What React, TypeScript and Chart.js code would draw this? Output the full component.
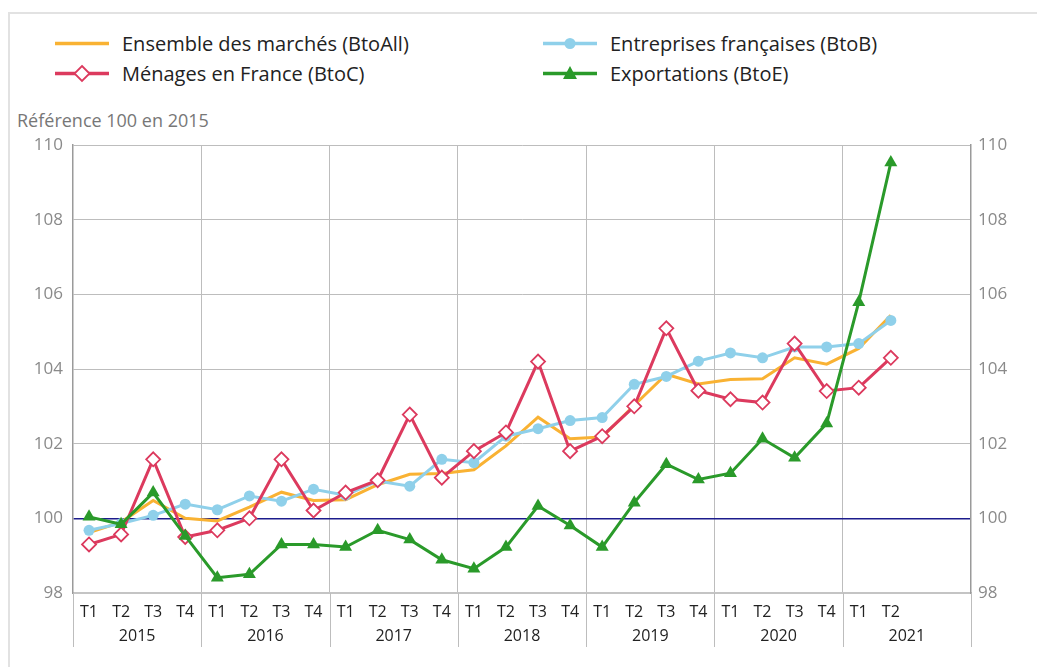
import React, { useEffect, useRef } from 'react';
import { Chart, registerables } from 'chart.js';

Chart.register(...registerables);

const quarters = [
  'T1', 'T2', 'T3', 'T4', 'T1', 'T2', 'T3', 'T4', 'T1', 'T2', 'T3', 'T4',
  'T1', 'T2', 'T3', 'T4', 'T1', 'T2', 'T3', 'T4', 'T1', 'T2', 'T3', 'T4',
  'T1', 'T2', '', '',
];
const years = ['2015', '2016', '2017', '2018', '2019', '2020', '2021'];

const btoAll = [
  99.62, 99.9, 100.48, 100.0, 99.93, 100.3, 100.7, 100.48,
  100.5, 100.9, 101.18, 101.2, 101.3, 101.94, 102.71, 102.13,
  102.18, 103.03, 103.86, 103.6, 103.72, 103.74, 104.3, 104.13,
  104.55, 105.44,
];
const btoB = [
  99.68, 99.86, 100.08, 100.38, 100.23, 100.6, 100.46, 100.78,
  100.62, 101.0, 100.86, 101.58, 101.49, 102.2, 102.4, 102.62,
  102.7, 103.59, 103.8, 104.21, 104.43, 104.3, 104.59, 104.59,
  104.68, 105.3,
];
const btoC = [
  99.3, 99.57, 101.58, 99.5, 99.68, 100.0, 101.58, 100.21,
  100.69, 101.02, 102.78, 101.09, 101.8, 102.3, 104.2, 101.8,
  102.2, 103.0, 105.09, 103.42, 103.19, 103.1, 104.68, 103.41,
  103.5, 104.3,
];
const btoE = [
  100.04, 99.84, 100.69, 99.53, 98.41, 98.5, 99.3, 99.3,
  99.23, 99.68, 99.43, 98.89, 98.65, 99.23, 100.33, 99.81,
  99.23, 100.42, 101.45, 101.04, 101.21, 102.13, 101.62, 102.54,
  105.79, 109.53,
];

const yMin = 98;
const yMax = 110;
const yStep = 2;
const refValue = 100;

const names = [
  'Ensemble des marchés (BtoAll)',
  'Entreprises françaises (BtoB)',
  'Ménages en France (BtoC)',
  'Exportations (BtoE)',
];
const axisTitle = 'Référence 100 en 2015';

const C_ORANGE = '#f9b233';
const C_BLUE = '#8fd0ea';
const C_RED = '#dc3a5e';
const C_GREEN = '#2a9a2a';
const C_NAVY = '#1c1c8c';
const GRID = '#bdbdbd';
const FONT = "'Open Sans', sans-serif";

const yearLines = {
  id: 'yearLines',
  afterDraw(chart: any) {
    const x = chart.scales.x;
    const ctx = chart.ctx;
    const half = (x.getPixelForValue(1) - x.getPixelForValue(0)) / 2;
    ctx.save();
    ctx.strokeStyle = GRID;
    ctx.lineWidth = 1;
    for (let k = 0; k <= years.length; k++) {
      const px = Math.round(x.getPixelForValue(k * 4) - half) + 0.5;
      ctx.beginPath();
      ctx.moveTo(px, chart.chartArea.bottom);
      ctx.lineTo(px, chart.chartArea.bottom + 54);
      ctx.stroke();
    }
    ctx.restore();
  },
};

function LegendIcon({ kind, color }: { kind: string; color: string }) {
  return (
    <svg width="56" height="20" style={{ position: 'absolute', left: 0, top: 0 }}>
      <line x1="1" y1="9.5" x2="55" y2="9.5" stroke={color} strokeWidth="3.5" />
      {kind === 'circle' && <circle cx="28" cy="9.5" r="5.5" fill={color} />}
      {kind === 'diamond' && (
        <polygon points="28,2 35.5,9.5 28,17 20.5,9.5" fill="#fff" stroke={color} strokeWidth="1.8" />
      )}
      {kind === 'triangle' && <polygon points="28,2 35,15 21,15" fill={color} />}
    </svg>
  );
}

function LegendItem({ left, top, kind, color, text }: any) {
  return (
    <div style={{ position: 'absolute', left, top, height: 20 }}>
      <LegendIcon kind={kind} color={color} />
      <div
        style={{
          position: 'absolute',
          left: 68,
          top: 0,
          lineHeight: '20px',
          fontSize: 20,
          fontFamily: FONT,
          color: '#222',
          whiteSpace: 'nowrap',
        }}
      >
        {text}
      </div>
    </div>
  );
}

export default function App() {
  const ref = useRef<HTMLCanvasElement>(null);

  useEffect(() => {
    if (!ref.current) return;
    const zeroVPad = (s: any) => {
      s.paddingTop = 0;
      s.paddingBottom = 0;
    };
    const chart = new Chart(ref.current, {
      type: 'line',
      data: {
        labels: quarters,
        datasets: [
          {
            label: names[0],
            data: btoAll,
            borderColor: C_ORANGE,
            backgroundColor: C_ORANGE,
            borderWidth: 3,
            pointRadius: 0,
            tension: 0,
            order: 3,
          },
          {
            label: names[1],
            data: btoB,
            borderColor: C_BLUE,
            backgroundColor: C_BLUE,
            borderWidth: 3,
            pointStyle: 'circle',
            pointRadius: 5.5,
            pointBorderWidth: 0,
            tension: 0,
            order: 2,
          },
          {
            label: names[2],
            data: btoC,
            borderColor: C_RED,
            backgroundColor: '#ffffff',
            pointBorderColor: C_RED,
            borderWidth: 3,
            pointStyle: 'rectRot',
            pointRadius: 7,
            pointBorderWidth: 1.8,
            tension: 0,
            order: 1,
          },
          {
            label: names[3],
            data: btoE,
            borderColor: C_GREEN,
            backgroundColor: C_GREEN,
            borderWidth: 3,
            pointStyle: 'triangle',
            pointRadius: 7.5,
            pointBorderWidth: 0,
            tension: 0,
            order: 0,
          },
        ],
      },
      options: {
        animation: false,
        responsive: false,
        maintainAspectRatio: false,
        layout: { padding: { top: 15, bottom: 14, left: 0, right: 0 } },
        plugins: {
          legend: { display: false },
          tooltip: { enabled: false },
        },
        scales: {
          x: {
            type: 'category',
            position: 'bottom',
            offset: true,
            weight: 0,
            grid: {
              offset: true,
              drawTicks: false,
              color: (c: any) => (typeof c.index === 'number' && c.index % 4 === 0 ? GRID : 'rgba(0,0,0,0)'),
            },
            border: { display: true, color: '#c4c4c4', width: 2 },
            ticks: {
              autoSkip: false,
              maxRotation: 0,
              padding: 10,
              color: '#222',
              font: { family: FONT, size: 16 },
            },
            afterFit: (s: any) => {
              s.height = 30;
              s.paddingLeft = 0;
              s.paddingRight = 0;
            },
          },
          x2: {
            type: 'category',
            axis: 'x',
            position: 'bottom',
            labels: years,
            offset: true,
            weight: 1,
            grid: { display: false },
            border: { display: false },
            ticks: {
              autoSkip: false,
              maxRotation: 0,
              padding: -4,
              color: '#222',
              font: { family: FONT, size: 16 },
            },
            afterFit: (s: any) => {
              s.height = 30;
              s.paddingLeft = 0;
              s.paddingRight = 0;
            },
          },
          y: {
            type: 'linear',
            position: 'left',
            min: yMin,
            max: yMax,
            ticks: {
              stepSize: yStep,
              padding: 10,
              color: '#8a8a8a',
              font: { family: FONT, size: 17 },
            },
            grid: {
              drawTicks: false,
              color: (c: any) => (c.tick && c.tick.value === refValue ? C_NAVY : GRID),
              lineWidth: (c: any) => (c.tick && c.tick.value === refValue ? 1.6 : 1),
            },
            border: { display: true, color: '#9a9a9a', width: 1.5 },
            afterFit: (s: any) => {
              s.width = 63;
              zeroVPad(s);
            },
          },
          y2: {
            type: 'linear',
            position: 'right',
            min: yMin,
            max: yMax,
            ticks: {
              stepSize: yStep,
              padding: 7,
              color: '#8a8a8a',
              font: { family: FONT, size: 17 },
            },
            grid: { display: false, drawTicks: false },
            border: { display: true, color: '#9a9a9a', width: 1.5 },
            afterFit: (s: any) => {
              s.width = 66;
              zeroVPad(s);
            },
          },
        },
      },
      plugins: [yearLines],
    } as any);
    return () => chart.destroy();
  }, []);

  return (
    <div
      style={{
        position: 'fixed',
        left: 0,
        top: 0,
        width: 1037,
        height: 667,
        overflow: 'hidden',
        background: '#fff',
      }}
    >
      <div
        style={{
          position: 'absolute',
          left: 8,
          top: 12,
          width: 1200,
          height: 900,
          borderLeft: '2px solid #e2e2e2',
          borderTop: '2px solid #e2e2e2',
        }}
      />
      <LegendItem left={54} top={34} kind="line" color={C_ORANGE} text={names[0]} />
      <LegendItem left={542} top={34} kind="circle" color={C_BLUE} text={names[1]} />
      <LegendItem left={54} top={64} kind="diamond" color={C_RED} text={names[2]} />
      <LegendItem left={542} top={64} kind="triangle" color={C_GREEN} text={names[3]} />
      <div
        style={{
          position: 'absolute',
          left: 17,
          top: 109,
          lineHeight: '22px',
          fontSize: 18,
          fontFamily: FONT,
          color: '#777',
          whiteSpace: 'nowrap',
        }}
      >
        {axisTitle}
      </div>
      <canvas
        ref={ref}
        width={1027}
        height={537}
        style={{ position: 'absolute', left: 10, top: 130, width: 1027, height: 537 }}
      />
    </div>
  );
}
